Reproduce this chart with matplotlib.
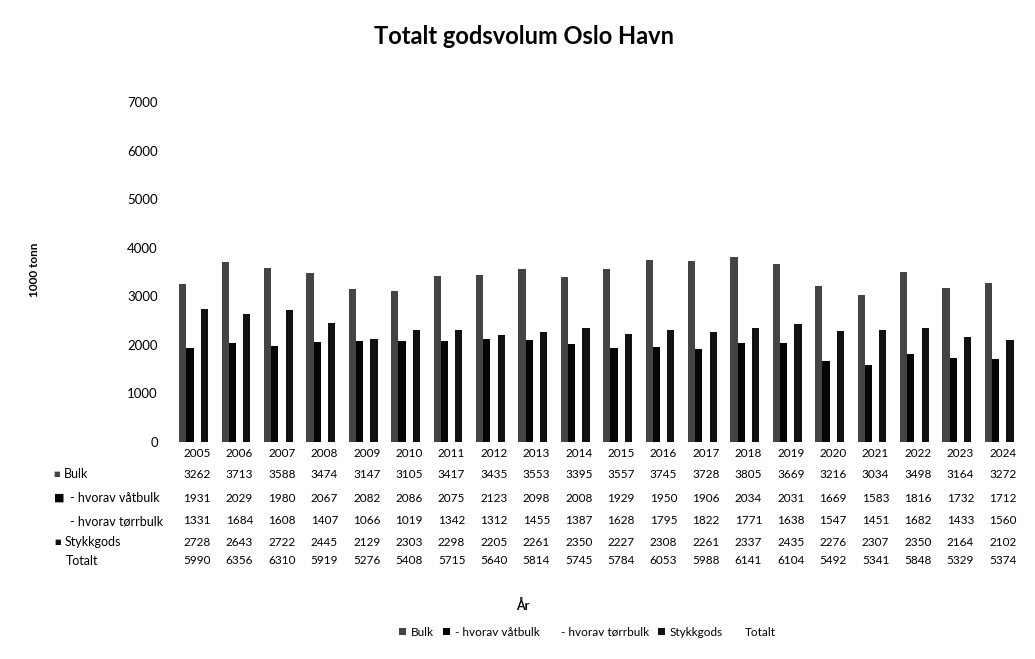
import numpy as np
import matplotlib
matplotlib.use("Agg")
import matplotlib.pyplot as plt
from matplotlib.transforms import blended_transform_factory

plt.rcParams['font.family'] = ['Lato', 'DejaVu Sans']

# values (1000 tonn)
years = [2005, 2006, 2007, 2008, 2009, 2010, 2011, 2012, 2013, 2014,
         2015, 2016, 2017, 2018, 2019, 2020, 2021, 2022, 2023, 2024]
bulk = [3262, 3713, 3588, 3474, 3147, 3105, 3417, 3435, 3553, 3395,
        3557, 3745, 3728, 3805, 3669, 3216, 3034, 3498, 3164, 3272]
vatbulk = [1931, 2029, 1980, 2067, 2082, 2086, 2075, 2123, 2098, 2008,
           1929, 1950, 1906, 2034, 2031, 1669, 1583, 1816, 1732, 1712]
torrbulk = [1331, 1684, 1608, 1407, 1066, 1019, 1342, 1312, 1455, 1387,
            1628, 1795, 1822, 1771, 1638, 1547, 1451, 1682, 1433, 1560]
stykkgods = [2728, 2643, 2722, 2445, 2129, 2303, 2298, 2205, 2261, 2350,
             2227, 2308, 2261, 2337, 2435, 2276, 2307, 2350, 2164, 2102]
totalt = [5990, 6356, 6310, 5919, 5276, 5408, 5715, 5640, 5814, 5745,
          5784, 6053, 5988, 6141, 6104, 5492, 5341, 5848, 5329, 5374]

series_names = ["Bulk", "- hvorav våtbulk", "- hvorav tørrbulk", "Stykkgods", "Totalt"]
series_vals = [bulk, vatbulk, torrbulk, stykkgods, totalt]
series_cols = ["#444444", "#050505", "#ffffff", "#111111", "#ffffff"]

W, H = 1035, 659
fig = plt.figure(figsize=(W / 100, H / 100), dpi=100)
ax = fig.add_axes([176 / W, 1 - 442 / H, (1024 - 176) / W, (442 - 102) / H])

x = np.arange(len(years))
bw = 0.17
handles = []
for i, (name, vals, col) in enumerate(zip(series_names, series_vals, series_cols)):
    b = ax.bar(x + (i - 2) * bw, vals, width=bw, color=col, label=name, linewidth=0)
    handles.append(b)

ax.set_xlim(-0.5, len(years) - 0.5)
ax.set_ylim(0, 7000)
ax.set_yticks(range(0, 7001, 1000))
ax.set_xticks(x)
ax.set_xticklabels(years)
ax.tick_params(axis='y', length=0, pad=13, labelsize=9.5)
ax.tick_params(axis='x', length=0, pad=4, labelsize=8.5)
for s in ax.spines.values():
    s.set_visible(False)

# data table under the chart
trans = blended_transform_factory(ax.transData, fig.transFigure)
row_y = [474, 498, 521, 542, 561]
label_x = [64, 70, 70, 65, 66]
for vals, py, name, lx in zip(series_vals, row_y, series_names, label_x):
    for xi, v in zip(x, vals):
        ax.text(xi, 1 - py / H, str(v), transform=trans, ha='center', va='center', fontsize=8.5)
    fig.text(lx / W, 1 - py / H, name, ha='left', va='center', fontsize=9)

# small legend keys in front of the row labels
fig.text(60 / W, 1 - 474 / H, "■", color="#444444", fontsize=5, ha='right', va='center', family='DejaVu Sans')
fig.text(64 / W, 1 - 498 / H, "■", color="#050505", fontsize=8, ha='right', va='center', family='DejaVu Sans')
fig.text(61 / W, 1 - 542 / H, "■", color="#111111", fontsize=5, ha='right', va='center', family='DejaVu Sans')

fig.text(524 / W, 1 - 37 / H, "Totalt godsvolum Oslo Havn", ha='center', va='center',
         fontsize=17, fontweight='bold')
fig.text(35 / W, 1 - 270 / H, "1000 tonn", rotation=90, ha='center', va='center',
         fontsize=8.5, fontweight='bold')
fig.text(523 / W, 1 - 605 / H, "År", ha='center', va='center', fontsize=9, fontweight='bold')

fig.legend(handles=handles, labels=series_names, loc='center',
           bbox_to_anchor=(587 / W, 1 - 632 / H), ncol=5, frameon=False, fontsize=8.5,
           handlelength=0.6, handleheight=0.6, columnspacing=0.8, handletextpad=0.4)

fig.savefig("out.png", dpi=100)
